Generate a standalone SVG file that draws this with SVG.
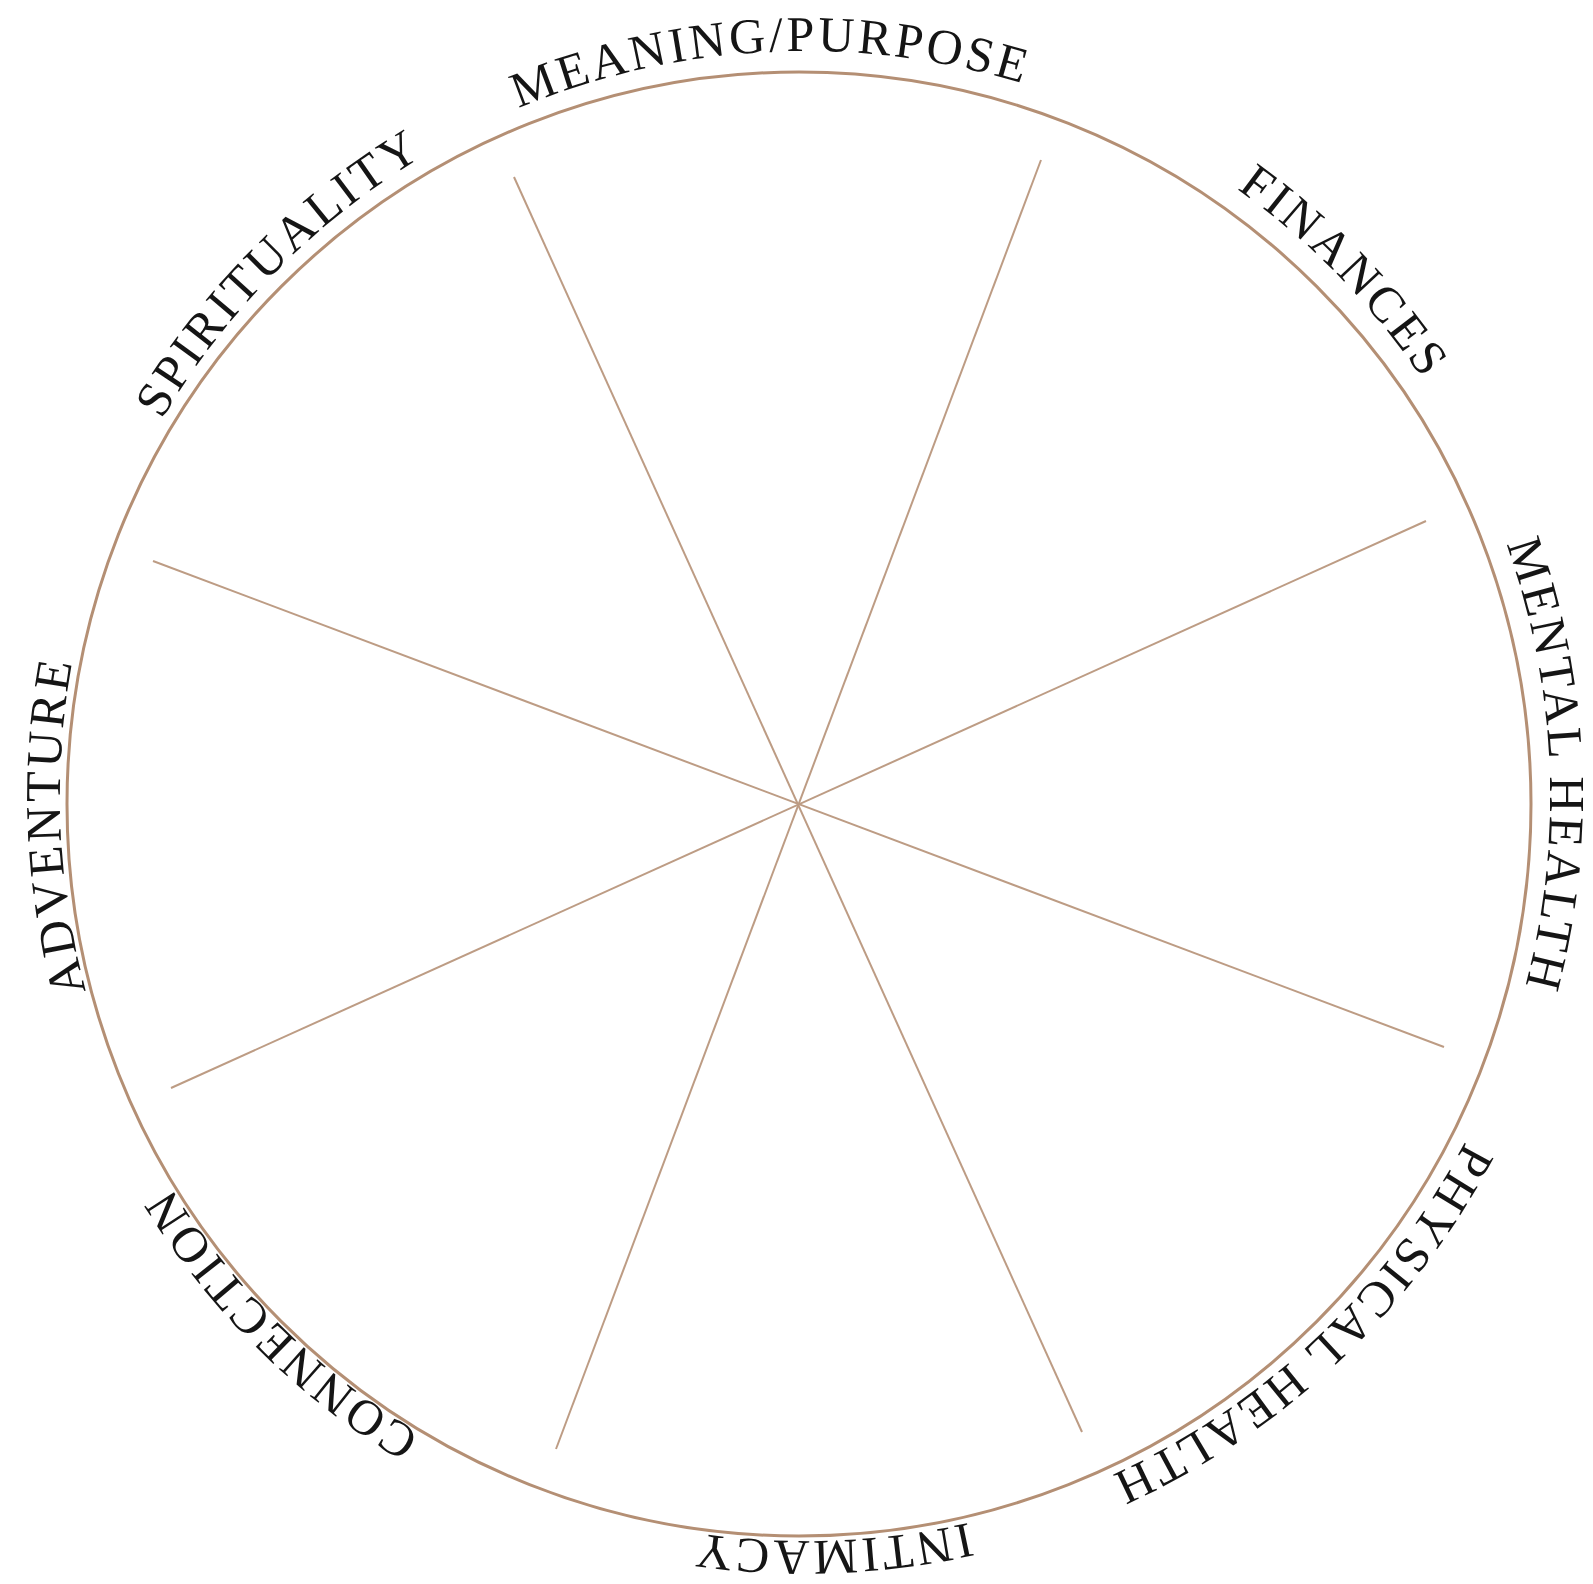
<svg xmlns="http://www.w3.org/2000/svg" xmlns:xlink="http://www.w3.org/1999/xlink" width="1593" height="1584" viewBox="0 0 1593 1584">
  <style>
    .ring { fill: none; stroke: #b48f74; stroke-width: 3; }
    .spoke { stroke: #bd9c84; stroke-width: 2; fill: none; }
    .label { font-family: "Liberation Serif", "Times New Roman", serif; font-size: 50px; letter-spacing: 3.2px; fill: #151515; }
  </style>
  <defs>
    <path id="textRing" d="M 550.2 1496.1 A 745 745 0 1 1 1059.8 95.9 A 745 745 0 1 1 550.2 1496.1"/>
  </defs>
  <rect width="1593" height="1584" fill="#ffffff"/>
  <g id="wheel">
    <circle class="ring" cx="799" cy="804" r="732"/>
  </g>
  <g id="connectors">
    <line class="spoke" x1="514" y1="177" x2="1082" y2="1432"/>
    <line class="spoke" x1="1041" y1="160" x2="556" y2="1449"/>
    <line class="spoke" x1="1426" y1="521" x2="171" y2="1088"/>
    <line class="spoke" x1="153" y1="561" x2="1444" y2="1047"/>
  </g>
  <g id="label-connection">
    <text class="label" text-anchor="middle"><textPath xlink:href="#textRing" href="#textRing" startOffset="6.89%">CONNECTION</textPath></text>
  </g>
  <g id="label-adventure">
    <text class="label" text-anchor="middle"><textPath xlink:href="#textRing" href="#textRing" startOffset="18.8%">ADVENTURE</textPath></text>
  </g>
  <g id="label-spirituality">
    <text class="label" text-anchor="middle"><textPath xlink:href="#textRing" href="#textRing" startOffset="31.9%">SPIRITUALITY</textPath></text>
  </g>
  <g id="label-meaning">
    <text class="label" text-anchor="middle"><textPath xlink:href="#textRing" href="#textRing" startOffset="43.69%">MEANING/PURPOSE</textPath></text>
  </g>
  <g id="label-finances">
    <text class="label" text-anchor="middle"><textPath xlink:href="#textRing" href="#textRing" startOffset="57.17%">FINANCES</textPath></text>
  </g>
  <g id="label-mental">
    <text class="label" text-anchor="middle"><textPath xlink:href="#textRing" href="#textRing" startOffset="68.78%">MENTAL HEALTH</textPath></text>
  </g>
  <g id="label-physical">
    <text class="label" text-anchor="middle"><textPath xlink:href="#textRing" href="#textRing" startOffset="82.44%">PHYSICAL HEALTH</textPath></text>
  </g>
  <g id="label-intimacy">
    <text class="label" text-anchor="middle"><textPath xlink:href="#textRing" href="#textRing" startOffset="93.86%">INTIMACY</textPath></text>
  </g>
</svg>
